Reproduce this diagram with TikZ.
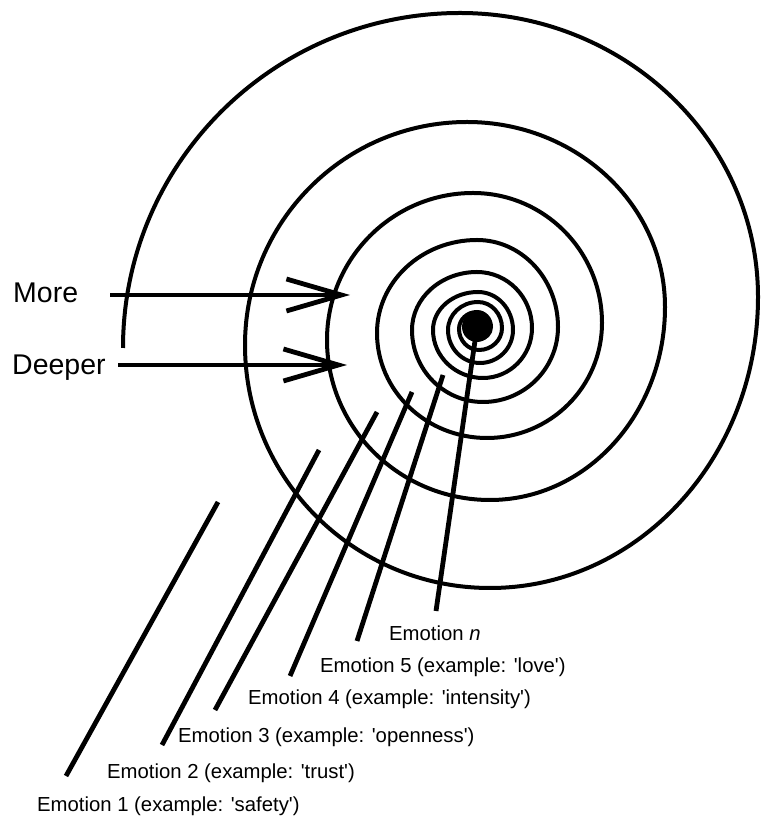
\documentclass[tikz,border=0pt]{standalone}
\usepackage{fontspec}
\setmainfont{Liberation Sans}
\usetikzlibrary{arrows.meta}

\tikzstyle{spiral} = [
    line width=4pt
]
\tikzstyle{pointer} = [
    line width=4.8pt
]
\tikzstyle{arrow} = [line width=4.8pt,-{Straight Barb[length=55pt,width=32pt]}]
\tikzstyle{bigword} = [
    anchor=base west,
    inner sep=0pt,
    font=\fontsize{28.5}{30}\selectfont
]
\tikzstyle{emotion} = [
    anchor=base west,
    inner sep=0pt,
    font=\fontsize{20.3}{22}\selectfont
]
\newcommand{\quoted}[1]{\textquotesingle#1\textquotesingle}

\begin{document}
\begin{tikzpicture}[x=1pt,y=1pt]
\useasboundingbox (0,0) rectangle (762,819);

% spiral, one quarter turn per arc, from the outer end inwards
\coordinate (outer) at (123,471);
\draw[spiral] (outer)
    \foreach \a/\rx/\ry in {180/337/335, 90/298/284, 0/268/291, -90/245/243,
                            180/222/223, 90/198/185, 0/175/193, -90/163/160,
                            180/146/147, 90/129/130, 0/115/115, -90/110/105,
                            180/100/93, 90/81/87, 0/75/75, -90/71/72,
                            180/65/58, 90/55/56, 0/49/50, -90/50/48,
                            180/45/38, 90/35/38, 0/33/33, -90/32/33,
                            180/30/28, 90/24/26, 0/23/22, -90/20/21,
                            180/18/17, 90/14/15, 0/12/12}
    { arc[start angle=\a, delta angle=-90, x radius=\rx pt, y radius=\ry pt] };
\node (core) [circle, fill=black, minimum size=30pt, inner sep=0pt] at (477,492) {};

\node (more) [bigword] at (13,516) {More};
\node (deeper) [bigword] at (12,444) {Deeper};

\coordinate (morefrom) at (110,524);
\coordinate (moretip) at (350,524);
\coordinate (deeperfrom) at (118,454);
\coordinate (deepertip) at (347,454);
\draw [arrow] (morefrom) -- (moretip);
\draw [arrow] (deeperfrom) -- (deepertip);

\node (emon) [emotion] at (389,178) {Emotion \textit{n}};
\node (emo5) [emotion] at (320,146) {Emotion 5 (example: \quoted{love})};
\node (emo4) [emotion] at (248,114) {Emotion 4 (example: \quoted{intensity})};
\node (emo3) [emotion] at (178,76) {Emotion 3 (example: \quoted{openness})};
\node (emo2) [emotion] at (107,40) {Emotion 2 (example: \quoted{trust})};
\node (emo1) [emotion] at (37,7) {Emotion 1 (example: \quoted{safety})};

% pointers from the rings down to the labels
\foreach \i/\tx/\ty/\fx/\fy in {1/218/317/66/43, 2/319/369/162/74, 3/377/407/215/109,
                                4/412/427/290/143, 5/443/444/357/178} {
    \coordinate (top\i) at (\tx,\ty);
    \coordinate (foot\i) at (\fx,\fy);
    \draw [pointer] (top\i) -- (foot\i);
}
\coordinate (footn) at (436,208);
\draw [pointer] (core.center) -- (footn);

\end{tikzpicture}
\end{document}
